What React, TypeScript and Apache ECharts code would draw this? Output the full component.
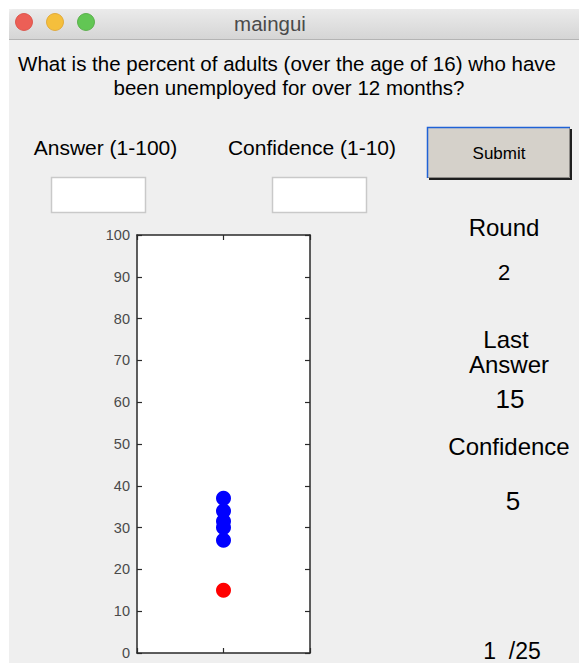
import React, { useEffect, useRef } from "react";
import * as echarts from "echarts";

const yTicks = [0, 10, 20, 30, 40, 50, 60, 70, 80, 90, 100];
const previousAnswers = [37, 34, 31.5, 30, 27];
const lastAnswer = [15];
const roundNumber = "2";
const lastAnswerText = "15";
const confidenceText = "5";
const progressText = "1  /25";

const FONT = "'Liberation Sans', Arial, Helvetica, sans-serif";

export default function App() {
  const ref = useRef<HTMLDivElement>(null);
  useEffect(() => {
    if (!ref.current) return;
    const chart = echarts.init(ref.current, null, { renderer: "svg" });
    const text = (x: number, y: number, t: string, size: number, color = "#000", align = "center") => ({
      type: "text",
      x,
      y,
      style: {
        text: t,
        font: `${size}px ${FONT}`,
        fill: color,
        textAlign: align,
        textVerticalAlign: "middle",
      },
      z: 10,
    });
    const axisLine = { show: true, onZero: false, lineStyle: { color: "#2a2a2a", width: 1.5 } };
    const axisTick = { show: true, inside: true, length: 5, lineStyle: { color: "#2a2a2a", width: 1.2 } };
    const option: any = {
      animation: false,
      backgroundColor: "#ffffff",
      grid: { left: 137, right: 269, top: 235, bottom: 10 },
      xAxis: [
        {
          type: "value",
          min: 0,
          max: 2,
          interval: 1,
          position: "bottom",
          axisLine,
          axisTick,
          axisLabel: { show: false },
          splitLine: { show: false },
        },
        {
          type: "value",
          min: 0,
          max: 2,
          interval: 1,
          position: "top",
          axisLine,
          axisTick,
          axisLabel: { show: false },
          splitLine: { show: false },
        },
      ],
      yAxis: [
        {
          type: "value",
          min: yTicks[0],
          max: yTicks[yTicks.length - 1],
          interval: 10,
          position: "left",
          axisLine,
          axisTick,
          axisLabel: { show: true, color: "#4a4a4a", fontSize: 14.5, fontFamily: FONT, margin: 7 },
          splitLine: { show: false },
        },
        {
          type: "value",
          min: yTicks[0],
          max: yTicks[yTicks.length - 1],
          interval: 10,
          position: "right",
          axisLine,
          axisTick,
          axisLabel: { show: false },
          splitLine: { show: false },
        },
      ],
      series: [
        {
          type: "scatter",
          xAxisIndex: 0,
          yAxisIndex: 0,
          symbolSize: 15,
          itemStyle: { color: "#0000ff", opacity: 1 },
          data: previousAnswers.map((v) => [1, v]),
          z: 5,
        },
        {
          type: "scatter",
          xAxisIndex: 0,
          yAxisIndex: 0,
          symbolSize: 15,
          itemStyle: { color: "#ff0000", opacity: 1 },
          data: lastAnswer.map((v) => [1, v]),
          z: 5,
        },
      ],
      graphic: [
        // window background
        { type: "rect", shape: { x: 9, y: 9, width: 570, height: 654 }, style: { fill: "#efefef" }, z: -10, silent: true },
        // plot area white fill
        { type: "rect", shape: { x: 137, y: 235, width: 173, height: 418 }, style: { fill: "#ffffff" }, z: -9, silent: true },
        // title bar
        {
          type: "rect",
          shape: { x: 9, y: 9, width: 570, height: 30, r: [5, 0, 0, 0] },
          style: {
            fill: new echarts.graphic.LinearGradient(0, 0, 0, 1, [
              { offset: 0, color: "#ebebeb" },
              { offset: 1, color: "#d5d5d5" },
            ]),
          },
          z: -8,
          silent: true,
        },
        { type: "line", shape: { x1: 9, y1: 39.5, x2: 579, y2: 39.5 }, style: { stroke: "#b4b4b4", lineWidth: 1 }, z: -7 },
        { type: "circle", shape: { cx: 24, cy: 22, r: 8.5 }, style: { fill: "#ec5f56", stroke: "#d9493f", lineWidth: 0.8 } },
        { type: "circle", shape: { cx: 55, cy: 22, r: 8.5 }, style: { fill: "#f5bf3c", stroke: "#dea22a", lineWidth: 0.8 } },
        { type: "circle", shape: { cx: 86, cy: 22, r: 8.5 }, style: { fill: "#62c654", stroke: "#4ea83f", lineWidth: 0.8 } },
        text(270, 23, "maingui", 20.5, "#4a4a4a"),
        // question
        text(287, 63, "What is the percent of adults (over the age of 16) who have", 20.5),
        text(289, 87, "been unemployed for over 12 months?", 20.5),
        // labels
        text(105.5, 147, "Answer (1-100)", 21),
        text(312, 147, "Confidence (1-10)", 21),
        // input boxes
        { type: "rect", shape: { x: 51.5, y: 177.5, width: 94, height: 35 }, style: { fill: "#ffffff", stroke: "#c9c9c9", lineWidth: 1.5 } },
        { type: "rect", shape: { x: 272.5, y: 177.5, width: 94, height: 35 }, style: { fill: "#ffffff", stroke: "#c9c9c9", lineWidth: 1.5 } },
        // submit button
        { type: "rect", shape: { x: 429, y: 129, width: 143, height: 51 }, style: { fill: "#1e1e1e" } },
        { type: "rect", shape: { x: 427, y: 127, width: 143, height: 51 }, style: { fill: "#d5d1ca" } },
        { type: "polyline", shape: { points: [[427.5, 178], [427.5, 127.5], [570, 127.5]] }, style: { stroke: "#1f62d6", lineWidth: 1.5, fill: null } },
        { type: "polyline", shape: { points: [[428, 177.5], [569.5, 177.5], [569.5, 128]] }, style: { stroke: "#8d8a86", lineWidth: 1, fill: null } },
        text(499, 153, "Submit", 17),
        // side panel
        text(504, 227, "Round", 24),
        text(504, 272, roundNumber, 22),
        text(506, 339, "Last", 24),
        text(509, 364, "Answer", 24),
        text(510, 399, lastAnswerText, 26),
        text(509, 446, "Confidence", 24),
        text(513, 501, confidenceText, 26),
        text(512, 651, progressText, 23),
      ],
    };
    chart.setOption(option);
    return () => chart.dispose();
  }, []);
  return (
    <div
      ref={ref}
      style={{ position: "fixed", left: 0, top: 0, width: 579, height: 663 }}
    />
  );
}
